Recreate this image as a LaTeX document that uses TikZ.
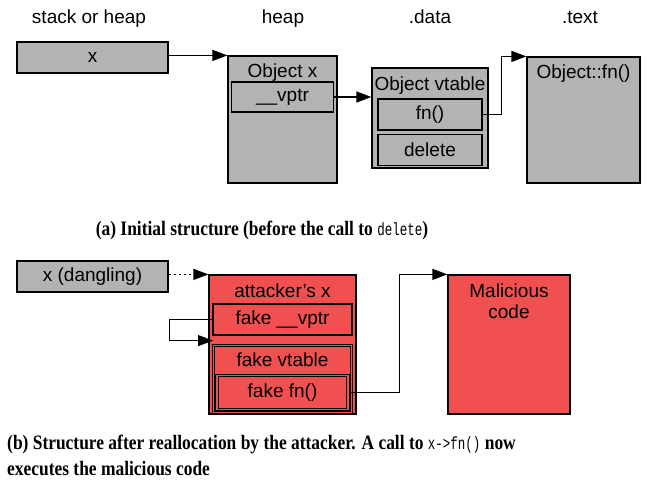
\documentclass[tikz,border=0pt]{standalone}
\usepackage{fontspec}
\setmainfont[FakeStretch=0.85]{Liberation Serif}
\setsansfont{Liberation Sans}
\setmonofont[Scale=0.86,FakeStretch=0.71]{Liberation Mono}
\usepackage{tikz}
\usetikzlibrary{arrows.meta,positioning}
\definecolor{memgray}{RGB}{179,179,179}
\definecolor{attackred}{RGB}{240,80,80}
\tikzstyle{cell} = [draw, line width=1.2pt, fill=memgray, inner sep=0pt]
\tikzstyle{evil} = [cell, fill=attackred]
\tikzstyle{nested} = [evil, line width=1pt, double=attackred, double distance=1.2pt]
\tikzstyle{title} = [inner sep=0pt]
\tikzstyle{caption} = [inner sep=0pt, font=\rmfamily\bfseries\fontsize{20.5}{26}\selectfont]
\tikzstyle{line} = [draw, line width=1.2pt, -{Triangle[length=15pt,width=11pt]}]
\newcommand{\capcode}[1]{\texttt{\mdseries #1}}

\begin{document}
\begin{tikzpicture}[x=1pt, y=-1pt, font=\sffamily\fontsize{19}{21.5}\selectfont]
    \useasboundingbox (0,0) rectangle (649,482);
    % (a) initial structure
    \node [title, anchor=base] (stackhdr) at (89,23) {stack or heap};
    \node [title, anchor=base] (heaphdr) at (283,23) {heap};
    \node [title, anchor=base] (datahdr) at (430,23) {.data};
    \node [title, anchor=base] (texthdr) at (580,23) {.text};
    \node [cell, minimum width=151pt, minimum height=31pt] (xvar) at (92.5,57.5) {x};
    \node [cell, minimum width=109pt, minimum height=127pt] (objx) at (282.5,119.5) {};
    \node [title, below=22.5pt of objx.north, anchor=base] (objxname) {Object x};
    \node [cell, minimum width=102pt, minimum height=30pt, below=26pt of objx.north] (vptr) {\_\_vptr};
    \node [cell, minimum width=116pt, minimum height=100pt] (vtbl) at (430,118) {};
    \node [title, below=23pt of vtbl.north, anchor=base] (vtblname) {Object vtable};
    \node [cell, minimum width=104pt, minimum height=31pt, below=31pt of vtbl.north] (fn) {fn()};
    \node [cell, minimum width=104pt, minimum height=31pt, below=3pt of fn] (del) {delete};
    \node [cell, minimum width=113pt, minimum height=126pt] (fnbody) at (583.5,120) {};
    \node [title, below=22.5pt of fnbody.north, anchor=base] (fnbodyname) {Object::fn()};
    \path [line] (xvar.east |- objx.north) -- (objx.north west);
    \path [line] (vptr.east) -- (vptr.east -| vtbl.west);
    \path [line] (fn.east) -- ++(19,0) |- (fnbody.north west);
    \node [caption, anchor=base] (capa) at (262,235) {(a) Initial structure (before the call to \capcode{delete})};
    % (b) after reallocation
    \node [cell, minimum width=151pt, minimum height=31pt] (dang) at (92.5,276.5) {x (dangling)};
    \node [evil, minimum width=147pt, minimum height=139pt] (atk) at (282.5,344.5) {};
    \node [title, below=23.5pt of atk.north, anchor=base] (atkname) {attacker’s x};
    \node [evil, minimum width=139pt, minimum height=31pt, below=29pt of atk.north] (fvptr) {fake \_\_vptr};
    \node [nested, minimum width=138pt, minimum height=67pt, below=9pt of fvptr] (fvtbl) {};
    \node [title, below=21.5pt of fvtbl.north, anchor=base] (fvtblname) {fake vtable};
    \node [nested, minimum width=131pt, minimum height=34pt, above=3pt of fvtbl.south] (ffn) {fake fn()};
    \node [evil, minimum width=122pt, minimum height=139pt] (mal) at (509,344.5) {};
    \node [title, align=center, below=9pt of mal.north] (malname) {Malicious\\code};
    \path [line, dash pattern=on 2.5pt off 2.5pt] (dang.east |- atk.north) -- (atk.north west);
    \path [line] (fvptr.west) -- ++(-43,0) |- ([yshift=4pt]fvtbl.north west);
    \path [line] (ffn.east) -- ++(51,0) |- (mal.north west);
    \node [caption, anchor=north west, align=left] (capb) at (7,435) {(b) Structure after reallocation by the attacker. A call to \capcode{x->fn()} now\\executes the malicious code};
\end{tikzpicture}
\end{document}
